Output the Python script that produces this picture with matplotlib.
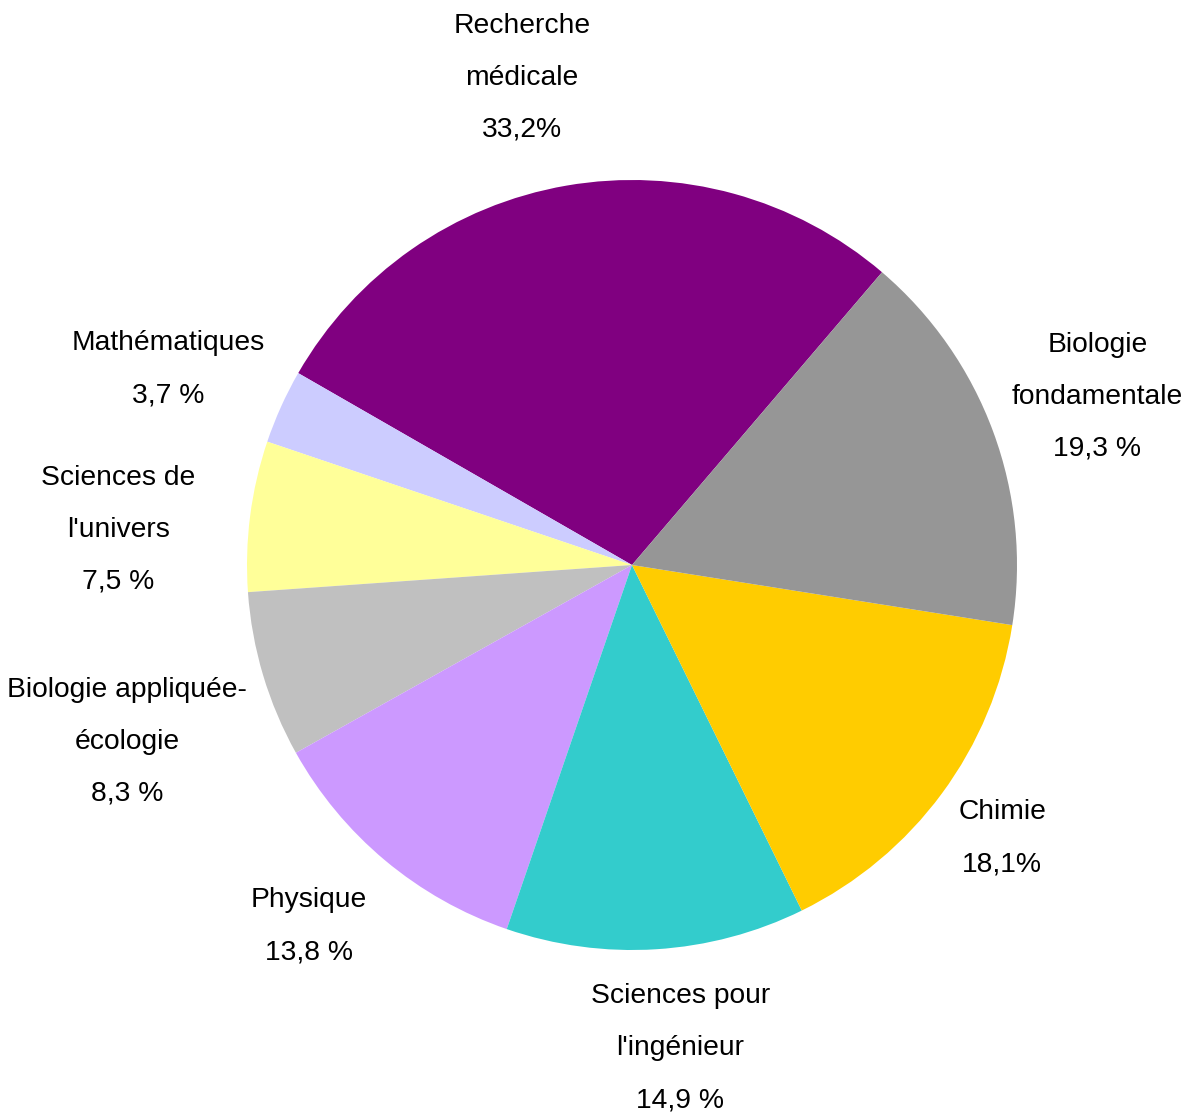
import numpy as np
import matplotlib
matplotlib.use('Agg')
import matplotlib.pyplot as plt

plt.rcParams['font.family'] = ['Liberation Sans Narrow', 'Liberation Sans', 'DejaVu Sans']

# disciplines, dans l'ordre de tracé (sens anti-horaire depuis la Recherche médicale)
labels = ['Recherche\nmédicale', 'Mathématiques', 'Sciences de\nl\'univers',
          'Biologie appliquée-\nécologie', 'Physique', 'Sciences pour\nl\'ingénieur',
          'Chimie', 'Biologie\nfondamentale']
values = [33.2, 3.7, 7.5, 8.3, 13.8, 14.9, 18.1, 19.3]
pct_text = ['33,2%', '3,7 %', '7,5 %', '8,3 %', '13,8 %', '14,9 %', '18,1%', '19,3 %']
colors = ['#800080', '#CCCCFF', '#FFFF99', '#C0C0C0', '#CC99FF', '#33CCCC', '#FFCC00', '#969696']

# placement des étiquettes : distance au centre (en rayons) et décalage angulaire (degrés)
label_dist = [1.297, 1.307, 1.337, 1.389, 1.259, 1.262, 1.195, 1.285]
label_dang = [2.9, 1.4, 3.4, 2.7, -1.9, 2.1, 0.0, -0.4]

W, H = 1185, 1115
cx, cy, R = 632, 565, 385

fig = plt.figure(figsize=(W / 100, H / 100), dpi=100)
ax = fig.add_axes([0, 0, 1, 1])

wedges, _ = ax.pie(values, colors=colors, startangle=49.5, counterclock=True,
                   radius=1, wedgeprops=dict(linewidth=0))

for w, lab, pct, d, da in zip(wedges, labels, pct_text, label_dist, label_dang):
    mid = np.deg2rad((w.theta1 + w.theta2) / 2 + da)
    ax.text(d * np.cos(mid), d * np.sin(mid), lab + '\n' + pct,
            ha='center', va='center', fontsize=20.3, linespacing=2.3)

ax.set_xlim(-cx / R, (W - cx) / R)
ax.set_ylim(-(H - cy) / R, cy / R)
ax.set_aspect('equal')
ax.axis('off')

fig.savefig('out.png', dpi=100)
